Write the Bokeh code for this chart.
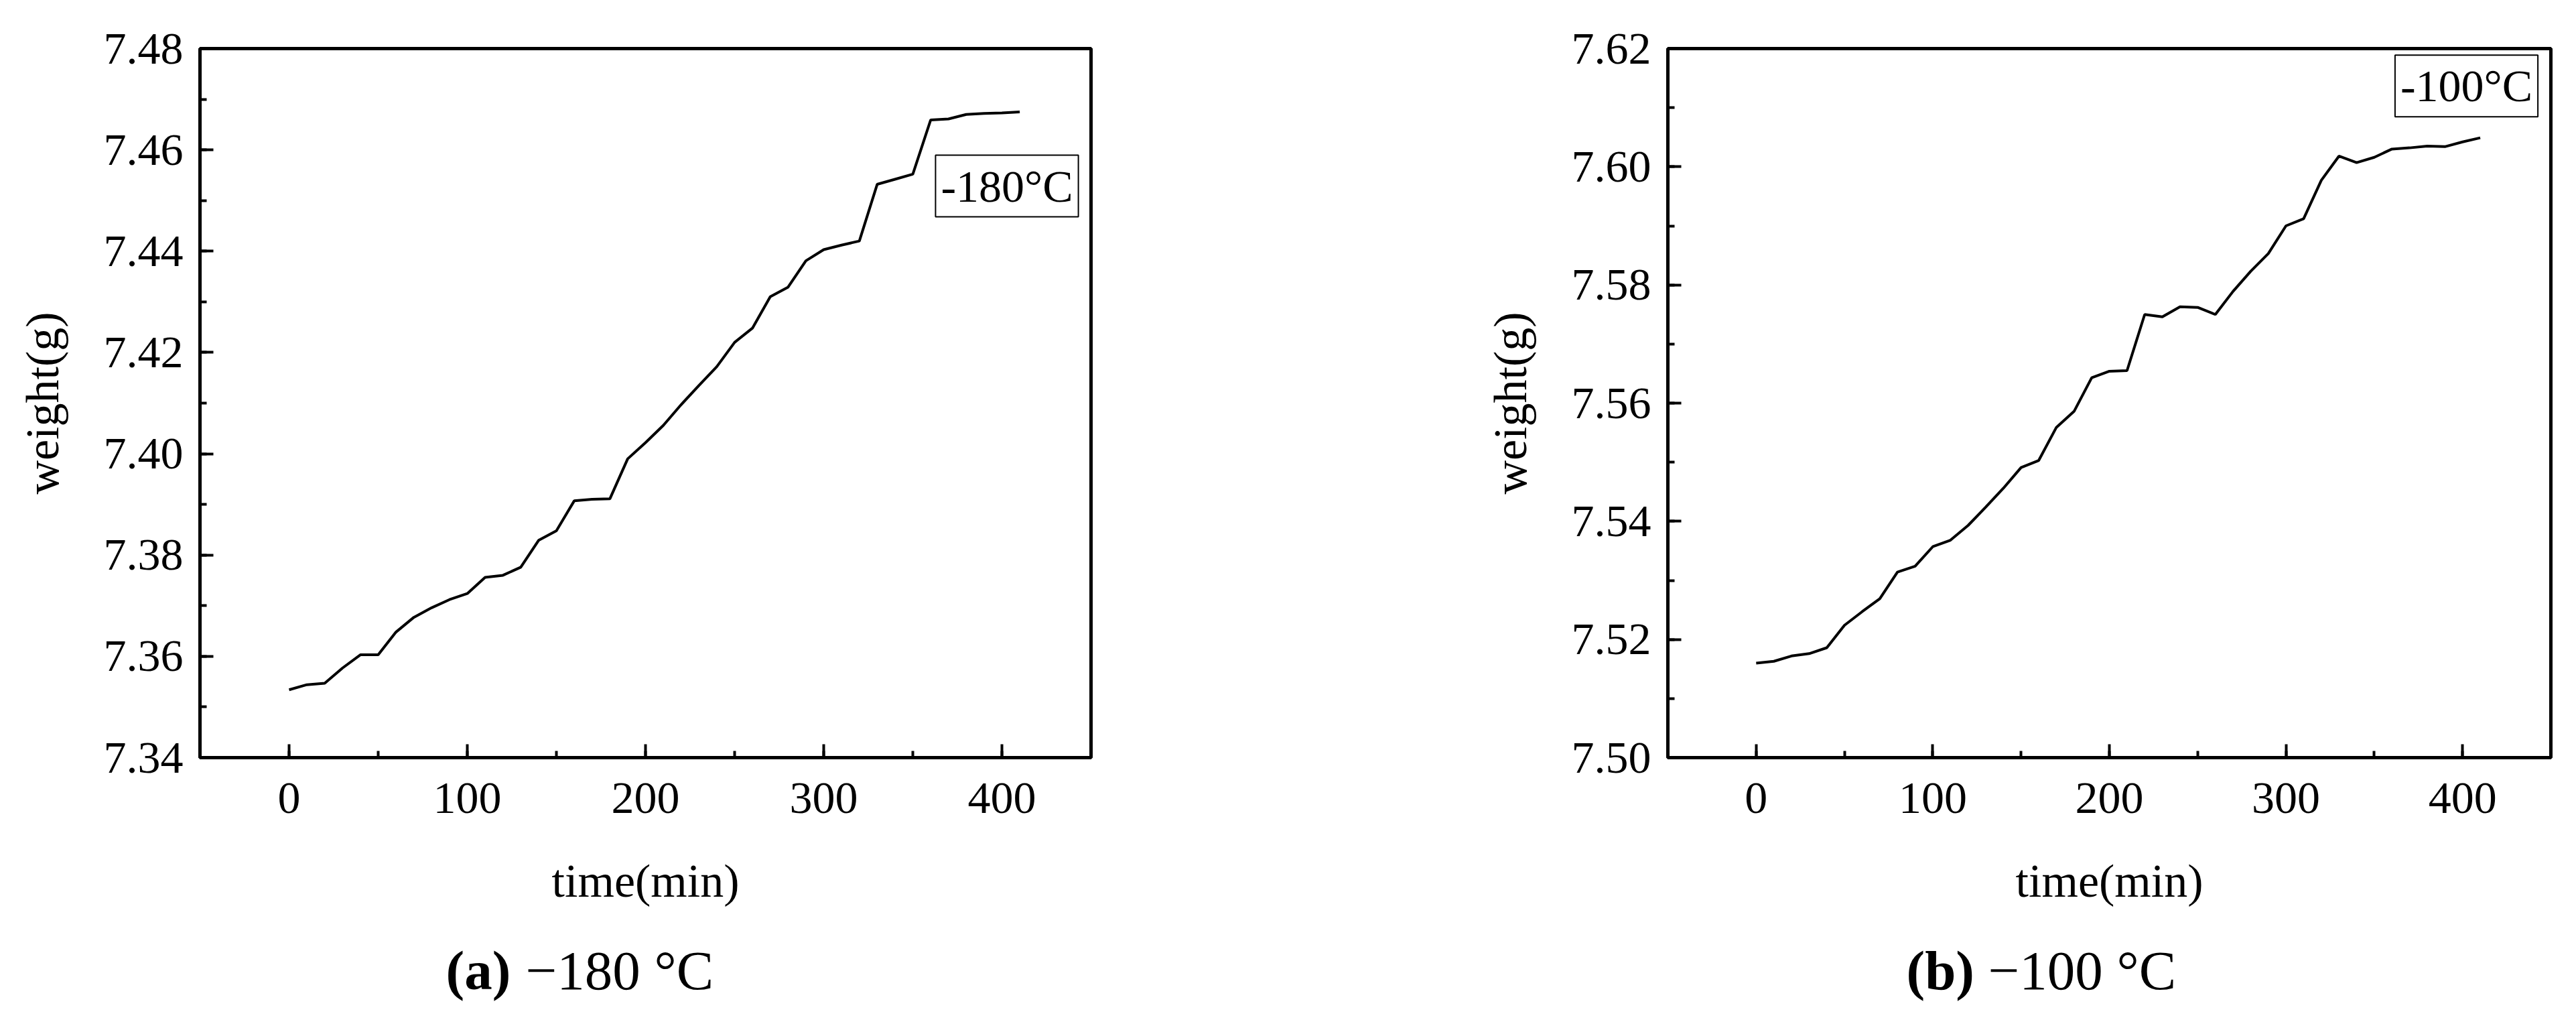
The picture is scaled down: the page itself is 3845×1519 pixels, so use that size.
from bokeh.plotting import figure
from bokeh.layouts import row, column
from bokeh.models import Range1d, SingleIntervalTicker, NumeralTickFormatter, Label
from bokeh.embed import file_html
from bokeh.resources import INLINE

# ---------------- data ----------------
time_a = [0, 10, 20, 30, 40, 50, 60, 70, 80, 90, 100, 110, 120, 130, 140, 150, 160, 170, 180, 190, 200,
          210, 220, 230, 240, 250, 260, 270, 280, 290, 300, 310, 320, 330, 340, 350, 360, 370, 380, 390, 400, 410]
weight_a = [7.3534, 7.3544, 7.3547, 7.3577, 7.3603, 7.3603, 7.3648, 7.3677, 7.3696, 7.3712, 7.3724,
            7.3756, 7.3760, 7.3776, 7.3829, 7.3848, 7.3907, 7.3910, 7.3911, 7.3990, 7.4022,
            7.4056, 7.4097, 7.4135, 7.4172, 7.4220, 7.4248, 7.4310, 7.4329, 7.4381, 7.4403,
            7.4412, 7.4420, 7.4532, 7.4542, 7.4552, 7.4659, 7.4661, 7.4670, 7.4672, 7.4673, 7.4675]

time_b = [0, 10, 20, 30, 40, 50, 60, 70, 80, 90, 100, 110, 120, 130, 140, 150, 160, 170, 180, 190, 200,
          210, 220, 230, 240, 250, 260, 270, 280, 290, 300, 310, 320, 330, 340, 350, 360, 370, 380, 390, 400, 410]
weight_b = [7.5160, 7.5163, 7.5172, 7.5176, 7.5186, 7.5224, 7.5247, 7.5269, 7.5314, 7.5324, 7.5357,
            7.5368, 7.5393, 7.5424, 7.5456, 7.5491, 7.5503, 7.5559, 7.5586, 7.5643, 7.5654,
            7.5655, 7.5750, 7.5746, 7.5763, 7.5762, 7.5750, 7.5789, 7.5823, 7.5853, 7.5900,
            7.5912, 7.5977, 7.6018, 7.6007, 7.6016, 7.6030, 7.6032, 7.6035, 7.6034, 7.6042, 7.6049]

x_range_min, x_range_max = -50, 450
y_range_a = (7.34, 7.48)
y_range_b = (7.50, 7.62)

x_label = "time(min)"
y_label = "weight(g)"
tag_a = "-180°C"
tag_b = "-100°C"
cap_a_bold, cap_a_rest = "(a)", "−180 °C"
cap_b_bold, cap_b_rest = "(b)", "−100 °C"

FONT = "Liberation Serif"
TOTAL_H = 1503
MAIN_H = 1386
CAP_H = TOTAL_H - MAIN_H


def panel(width, left, right, top, fh, t, w, yr, tag, tag_center):
    fw = width - left - right
    bottom = MAIN_H - top - fh
    p = figure(width=width, height=MAIN_H, output_backend="svg", toolbar_location=None,
               x_range=Range1d(x_range_min, x_range_max), y_range=Range1d(*yr),
               min_border_left=left, min_border_right=right,
               min_border_top=top, min_border_bottom=bottom)
    p.background_fill_color = "white"
    p.border_fill_color = "white"
    p.grid.visible = False
    p.outline_line_color = "black"
    p.outline_line_width = 5
    p.outline_line_alpha = 1.0

    p.xaxis.ticker = SingleIntervalTicker(interval=100, num_minor_ticks=2)
    p.yaxis.ticker = SingleIntervalTicker(interval=0.02, num_minor_ticks=2)
    p.yaxis.formatter = NumeralTickFormatter(format="0.00")

    for ax in (p.xaxis[0], p.yaxis[0]):
        ax.axis_line_width = 5
        ax.axis_line_color = "black"
        ax.major_tick_in = 20
        ax.major_tick_out = 0
        ax.minor_tick_in = 10
        ax.minor_tick_out = 0
        ax.major_tick_line_width = 4
        ax.minor_tick_line_width = 4
        ax.major_tick_line_color = "black"
        ax.minor_tick_line_color = "black"
        ax.major_label_text_font = FONT
        ax.major_label_text_font_size = "68px"
        ax.major_label_text_color = "black"
        ax.axis_label_text_font = FONT
        ax.axis_label_text_font_size = "70px"
        ax.axis_label_text_font_style = "normal"
        ax.axis_label_text_color = "black"

    p.xaxis.axis_label = x_label
    p.yaxis.axis_label = y_label
    p.xaxis.major_label_standoff = 38
    p.yaxis.major_label_standoff = 25
    p.xaxis.axis_label_standoff = 60
    p.yaxis.axis_label_standoff = 50

    p.line(t, w, line_color="black", line_width=4)

    def xd(fx):
        return x_range_min + (fx - left) / fw * (x_range_max - x_range_min)

    def yd(fy):
        return yr[1] - (fy - top) / fh * (yr[1] - yr[0])

    p.add_layout(Label(x=xd(tag_center[0]), y=yd(tag_center[1]), text=tag,
                       text_font=FONT, text_font_size="68px", text_color="black",
                       text_align="center", text_baseline="middle",
                       border_line_color="black", border_line_width=2,
                       background_fill_color="white", padding=8))
    return p


def caption(width, bold_text, rest_text, x_bold, x_rest, baseline_from_top):
    c = figure(width=width, height=CAP_H, output_backend="svg", toolbar_location=None,
               x_range=Range1d(0, width), y_range=Range1d(0, CAP_H),
               x_axis_type=None, y_axis_type=None,
               min_border_left=0, min_border_right=0, min_border_top=0, min_border_bottom=0)
    c.outline_line_color = None
    c.grid.visible = False
    c.background_fill_color = "white"
    c.border_fill_color = "white"
    yb = CAP_H - baseline_from_top
    c.add_layout(Label(x=x_bold, y=yb, text=bold_text, text_font=FONT, text_font_size="83px",
                       text_font_style="bold", text_color="black",
                       text_align="left", text_baseline="alphabetic"))
    c.add_layout(Label(x=x_rest, y=yb, text=rest_text, text_font=FONT, text_font_size="83px",
                       text_color="black", text_align="left", text_baseline="alphabetic"))
    return c


p1 = panel(1914, 298, 286, 57, 1073, time_a, weight_a, y_range_a, tag_a, (1502.5, 265))
p2 = panel(1915, 575, 22, 72, 1064, time_b, weight_b, y_range_b, tag_b, (1767, 128))

c1 = caption(1914, cap_a_bold, cap_a_rest, 665, 784, 1447 - MAIN_H)
c2 = caption(1915, cap_b_bold, cap_b_rest, 931, 1053, 1447 - MAIN_H)

layout = column(row(p1, p2), row(c1, c2))
open("out.html", "w").write(file_html(layout, INLINE))
